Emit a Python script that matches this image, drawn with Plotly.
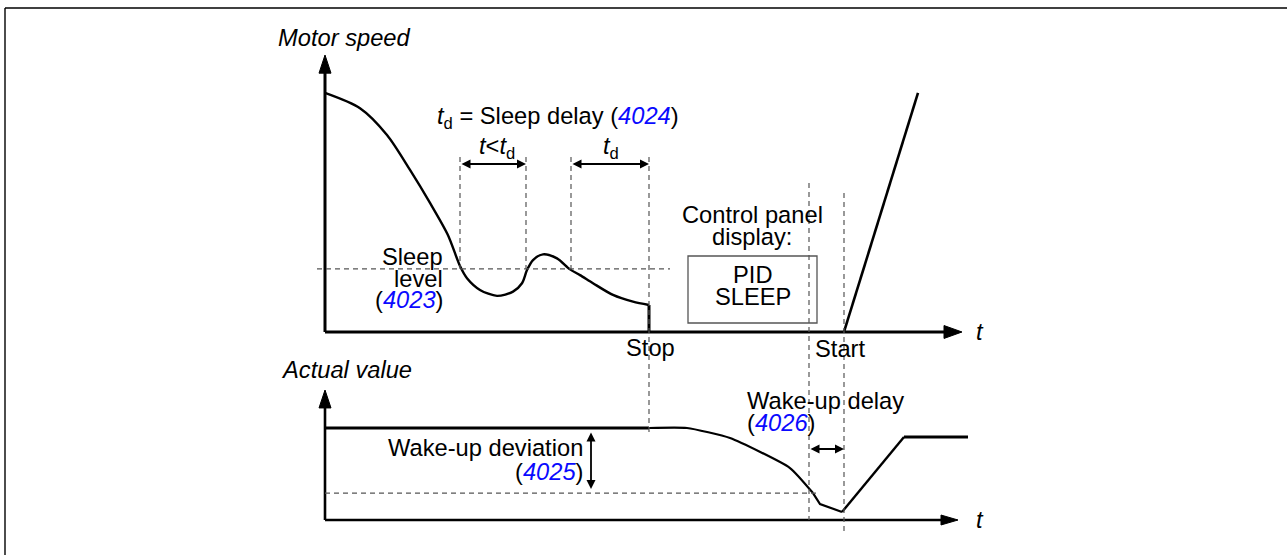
import plotly.graph_objects as go

W, H = 1287, 555

# ---------------- data ----------------
# Motor speed (% of max) versus time (s) before the drive falls asleep
speed_t = [0.0, 3.5, 6.2, 8.5, 10.5, 12.3, 13.5, 14.2, 15.5, 17.2, 18.8, 19.7, 20.2, 20.8,
           21.8, 23.2, 24.5, 25.5, 26.8, 28.8, 30.8, 32.4]
speed_v = [100.0, 93.6, 82.4, 67.8, 54.0, 40.5, 27.6, 22.5, 17.6, 15.1, 16.9, 20.4, 25.9, 30.1,
           32.5, 30.8, 26.2, 23.8, 20.4, 15.5, 12.7, 11.3]

sleep_level = 26.4                 # parameter 4023
sleep_cross = [13.5, 20.1, 24.6]   # instants where speed passes the sleep level
stop_t = 32.4                      # drive stops (sleep delay elapsed)
wake_t = 48.4                      # actual value falls below wake-up level
start_t = 51.9                     # drive restarts (wake-up delay elapsed)
ramp_end_t = 59.3
ramp_end_v = 100.0

# Actual (process) value versus time
setpoint = 100.0
wake_level = 29.3                  # setpoint minus wake-up deviation (4025)
act_hold_t = [0.0, 32.4]
act_hold_v = [100.0, 100.0]
act_fall_t = [32.4, 36.2, 40.5, 46.5, 48.8, 49.5, 51.7]
act_fall_v = [100.0, 100.0, 89.1, 56.5, 29.3, 17.4, 8.7]
act_rise_t = [51.7, 57.9]
act_rise_v = [8.7, 90.2]
act_final_t = [57.9, 64.3]
act_final_v = [90.2, 90.2]

# ---------------- axes geometry ----------------
X_RANGE = [-32.5, 96.2]
SPEED_RANGE = [-93.31, 138.91]
ACT_RANGE = [-38.04, 565.22]

def yp_speed(v):
    return (v - SPEED_RANGE[0]) / (SPEED_RANGE[1] - SPEED_RANGE[0])

def yp_act(a):
    return (a - ACT_RANGE[0]) / (ACT_RANGE[1] - ACT_RANGE[0])

def at(px, py):
    return px / W, 1 - py / H

FONT = "Liberation Sans, Arial, sans-serif"
FS = 23.7
BLUE = "#0a0aff"
DASH = dict(color="#555555", width=1.2, dash="5px,4px")

fig = go.Figure()

def line(x, y, width, yaxis="y", shape="linear", smoothing=None):
    ln = dict(color="black", width=width, shape=shape)
    if smoothing is not None:
        ln["smoothing"] = smoothing
    fig.add_trace(go.Scatter(x=x, y=y, mode="lines", line=ln, yaxis=yaxis,
                             hoverinfo="skip", showlegend=False))

def tri(x, y, yaxis="y"):
    fig.add_trace(go.Scatter(x=x, y=y, mode="lines", fill="toself", fillcolor="black",
                             line=dict(color="black", width=1), yaxis=yaxis,
                             hoverinfo="skip", showlegend=False))

# ---- top panel: motor speed ----
y_top = 115.9
x_end = 63.7
line([0, 0], [0, y_top - 7], 3)
line([0, x_end - 1.5], [0, 0], 3)
tri([-0.6, 0, 0.6, -0.6], [y_top - 7.6, y_top, y_top - 7.6, y_top - 7.6])
tri([x_end - 1.8, x_end, x_end - 1.8, x_end - 1.8], [2.7, 0, -2.7, 2.7])

line(speed_t, speed_v, 2.4, shape="spline", smoothing=0.8)
line([stop_t, stop_t], [speed_v[-1], 0], 3)
line([start_t, ramp_end_t], [0, ramp_end_v], 2.6)

# ---- bottom panel: actual value ----
a_top = 141.3
line([0, 0], [0, a_top - 17], 2.6, yaxis="y2")
line([0, 61.7], [0, 0], 2.6, yaxis="y2")
tri([-0.6, 0, 0.6, -0.6], [a_top - 19.5, a_top, a_top - 19.5, a_top - 19.5], yaxis="y2")
tri([61.6, 63.3, 61.6, 61.6], [5.4, 0, -5.4, 5.4], yaxis="y2")

line(act_hold_t, act_hold_v, 3.2, yaxis="y2")
line(act_fall_t[:5], act_fall_v[:5], 2.2, yaxis="y2", shape="spline", smoothing=0.5)
line(act_fall_t[4:], act_fall_v[4:], 2.2, yaxis="y2")
line(act_rise_t, act_rise_v, 2.4, yaxis="y2")
line(act_final_t, act_final_v, 3.2, yaxis="y2")

# ---- dashed guide lines ----
shapes = []
def dashed_x(t, y0, y1):
    shapes.append(dict(type="line", xref="x", yref="paper", x0=t, x1=t, y0=y0, y1=y1, line=DASH))

arrow_v = 70.3
guide_top = yp_speed(73.2)
for tc in sleep_cross:
    dashed_x(tc, guide_top, yp_speed(sleep_level))
dashed_x(stop_t, guide_top, yp_act(94.0))
dashed_x(wake_t, yp_speed(62.3), yp_act(0))
dashed_x(start_t, yp_speed(58.2), yp_act(-13.0))

shapes.append(dict(type="line", xref="x", yref="y", x0=-0.8, x1=34.5,
                   y0=sleep_level, y1=sleep_level, line=DASH))
shapes.append(dict(type="line", xref="x", yref="y2", x0=0, x1=49.5,
                   y0=wake_level, y1=wake_level, line=DASH))

# control panel display box
bx0, by0 = at(688, 256)
bx1, by1 = at(817, 323)
shapes.append(dict(type="rect", xref="paper", yref="paper", x0=bx0, x1=bx1, y0=by1, y1=by0,
                   line=dict(color="#555555", width=1.3), fillcolor="rgba(0,0,0,0)"))

# frame lines
fx, fy = at(5, 8)
shapes.append(dict(type="line", xref="paper", yref="paper", x0=fx, x1=1, y0=fy, y1=fy,
                   line=dict(color="black", width=1.4)))
shapes.append(dict(type="line", xref="paper", yref="paper", x0=fx, x1=fx, y0=fy, y1=0,
                   line=dict(color="black", width=1.4)))

# ---- text ----
ann = []
def text(s, px, py, anchor="center", italic=False):
    x, y = at(px, py)
    if italic:
        s = "<i>" + s + "</i>"
    ann.append(dict(text=s, x=x, y=y, xref="paper", yref="paper", xanchor=anchor,
                    yanchor="middle", showarrow=False,
                    font=dict(family=FONT, size=FS, color="black")))

def num(n):
    return "(<span style='color:%s'><i>%s</i></span>)" % (BLUE, n)

TD = "<i>t</i><sub>d</sub>"

text("Motor speed", 276, 38, "left", italic=True)
text(TD + " = Sleep delay " + num("4024"), 435, 118, "left")
text("<i>t</i>&lt;" + TD, 497, 148)
text(TD, 611, 148)
text("Sleep", 445, 257, "right")
text("level", 445, 279, "right")
text(num("4023"), 445, 300, "right")
text("Control panel", 753, 215)
text("display:", 752, 237)
text("PID", 753, 275)
text("SLEEP", 753, 297)
text("Stop", 650, 348)
text("Start", 840, 349)
text("t", 980, 332, italic=True)
text("Actual value", 279, 370, "left", italic=True)
text("Wake-up deviation", 585, 448, "right")
text(num("4025"), 585, 472, "right")
text("Wake-up delay", 745, 401, "left")
text(num("4026"), 745, 423, "left")
text("t", 980, 520, italic=True)

# ---- dimension arrows ----
def dim(x0, y0, x1, y1, yref="y"):
    ann.append(dict(text="", x=x1, y=y1, ax=x0, ay=y0, xref="x", yref=yref,
                    axref="x", ayref=yref, showarrow=True, arrowhead=2,
                    arrowside="end+start", arrowsize=1.0, arrowwidth=1.8,
                    arrowcolor="black", standoff=0, startstandoff=0))

dim(sleep_cross[0], arrow_v, sleep_cross[1], arrow_v)
dim(sleep_cross[2], arrow_v, stop_t, arrow_v)
dim(wake_t, 77.2, start_t, 77.2, yref="y2")
dim(26.6, setpoint - 3.3, 26.6, wake_level + 4.4, yref="y2")

fig.update_layout(
    width=W, height=H,
    margin=dict(l=0, r=0, t=0, b=0),
    paper_bgcolor="white", plot_bgcolor="white",
    xaxis=dict(range=X_RANGE, visible=False, domain=[0, 1], fixedrange=True),
    yaxis=dict(range=SPEED_RANGE, visible=False, domain=[0, 1], fixedrange=True),
    yaxis2=dict(range=ACT_RANGE, visible=False, overlaying="y", anchor="x", fixedrange=True),
    shapes=shapes,
    annotations=ann,
    showlegend=False,
)

fig.write_html("out.html", config={"displayModeBar": False})
